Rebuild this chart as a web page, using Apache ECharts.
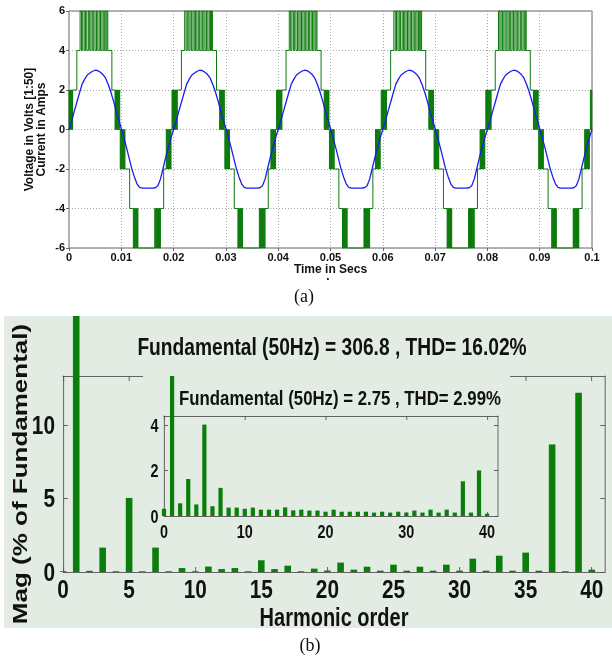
<!DOCTYPE html>
<html>
<head>
<meta charset="utf-8">
<script src="https://cdn.jsdelivr.net/npm/echarts@6/dist/echarts.min.js"></script>
<style>
html, body { margin: 0; padding: 0; background: #ffffff; }
#page { position: relative; width: 612px; height: 664px; overflow: hidden; }
#wave { position: absolute; left: 0; top: 0; width: 612px; height: 664px; }
/* the spectrum panel uses condensed lettering: it is laid out 25% wider and squeezed back */
#spectrum { position: absolute; left: 0; top: 0; width: 765px; height: 664px;
  transform: scaleX(0.8); transform-origin: 0 0; }
</style>
</head>
<body>
<div id="page">
  <div id="wave"></div>
  <div id="spectrum"></div>
</div>
<script>
// ---------- (a) inverter output, one 20 ms period repeated ----------
const periodMs = 20;
const cycleCount = 5;
// switching instants (ms) of the staircase PWM voltage and the level held from each instant
const voltageSwitchMs = [
  0.00, 0.10, 0.18, 0.28, 0.36, 0.46, 0.54, 0.64, 0.70, 1.50,
  2.12, 2.38, 2.62, 2.90, 3.15, 3.40, 3.70, 3.95, 4.20, 4.45, 4.72,
  4.98, 5.25, 5.50, 5.78, 6.02, 6.30, 6.55, 6.82, 7.05, 7.25, 7.42,
  8.20,
  8.80, 8.90, 8.98, 9.08, 9.16, 9.26, 9.34, 9.44, 9.52, 9.62, 9.70,
  9.80, 9.90, 9.98, 10.08, 10.16, 10.26, 10.34, 10.44, 10.52, 10.62, 10.70,
  11.60,
  12.30, 12.40, 12.48, 12.58, 12.66, 12.76, 12.84, 12.94, 13.02, 13.10, 13.18,
  16.40, 16.50, 16.58, 16.68, 16.76, 16.86, 16.94, 17.04, 17.12, 17.22, 17.30, 17.40, 17.48,
  18.10,
  18.60, 18.70, 18.78, 18.88, 18.96, 19.06, 19.14, 19.24, 19.32, 19.42, 19.50,
  19.70, 19.80, 19.88, 19.95
];
const voltageLevel = [
  2, 0, 2, 0, 2, 0, 2, 0, 2, 4,
  6, 4, 6, 4, 6, 4, 6, 4, 6, 4, 6,
  4, 6, 4, 6, 4, 6, 4, 6, 4, 6, 4,
  2,
  0, 2, 0, 2, 0, 2, 0, 2, 0, 2, 0,
  -2, 0, -2, 0, -2, 0, -2, 0, -2, 0, -2,
  -4,
  -6, -4, -6, -4, -6, -4, -6, -4, -6, -4, -6,
  -4, -6, -4, -6, -4, -6, -4, -6, -4, -6, -4, -6, -4,
  -2,
  0, -2, 0, -2, 0, -2, 0, -2, 0, -2, 0,
  2, 0, 2, 0
];
// load current, sampled every 0.5 ms over one period
const currentStepMs = 0.5;
const currentAmps = [
  0, 0.42, 0.92, 1.38, 1.85, 2.30, 2.55, 2.76, 2.86, 2.95,
  3.00, 2.98, 2.90, 2.78, 2.60, 2.28, 1.90, 1.45, 0.95, 0.50,
  0.05, -0.42, -0.92, -1.45, -1.98, -2.40, -2.75, -2.93, -2.97, -2.97,
  -2.97, -2.97, -2.97, -2.95, -2.85, -2.50, -1.95, -1.40, -0.90, -0.42
];
const timeTicks = [0, 0.01, 0.02, 0.03, 0.04, 0.05, 0.06, 0.07, 0.08, 0.09, 0.1];
const levelTicks = [-6, -4, -2, 0, 2, 4, 6];

// ---------- (b) harmonic spectra ----------
const harmonicOrder = [
  0, 1, 2, 3, 4, 5, 6, 7, 8, 9, 10, 11, 12, 13, 14, 15, 16, 17, 18, 19, 20,
  21, 22, 23, 24, 25, 26, 27, 28, 29, 30, 31, 32, 33, 34, 35, 36, 37, 38, 39, 40
];
const voltageMagPct = [
  0.05, 100, 0.08, 1.66, 0.05, 5.04, 0.05, 1.66, 0.05, 0.27, 0.05,
  0.37, 0.20, 0.27, 0.05, 0.80, 0.20, 0.43, 0.05, 0.23, 0.10,
  0.64, 0.16, 0.36, 0.09, 0.50, 0.09, 0.36, 0.09, 0.50, 0.09,
  0.91, 0.09, 1.11, 0.09, 1.32, 0.09, 8.68, 0.05, 12.2, 0.16
];
const currentMagPct = [
  0.32, 100, 0.56, 1.63, 0.51, 4.03, 0.43, 1.24, 0.37, 0.37, 0.32,
  0.37, 0.28, 0.28, 0.28, 0.38, 0.25, 0.28, 0.24, 0.24, 0.19,
  0.28, 0.19, 0.19, 0.19, 0.19, 0.15, 0.19, 0.15, 0.19, 0.15,
  0.24, 0.15, 0.28, 0.15, 0.28, 0.15, 1.53, 0.15, 2.01, 0.10
];
const spectrumTicks = [0, 5, 10, 15, 20, 25, 30, 35, 40];
const spectrumMagTicks = [0, 5, 10];
const insetOrderTicks = [0, 10, 20, 30, 40];
const insetMagTicks = [0, 2, 4];
const voltageSpectrumTitle = 'Fundamental (50Hz) = 306.8 , THD= 16.02%';
const currentSpectrumTitle = 'Fundamental (50Hz) = 2.75 , THD= 2.99%';

// ---------- series data ----------
// each voltage item: [start (s), end (s), level, previous level]
const voltageRuns = [];
const switchTimes = [];
const switchLevels = [];
for (let c = 0; c < cycleCount; c++) {
  voltageSwitchMs.forEach((t, i) => { switchTimes.push((t + c * periodMs) / 1000); switchLevels.push(voltageLevel[i]); });
}
switchTimes.push(cycleCount * periodMs / 1000);
for (let i = 0; i < switchLevels.length; i++) {
  voltageRuns.push([switchTimes[i], switchTimes[i + 1], switchLevels[i], i > 0 ? switchLevels[i - 1] : 0]);
}

const currentPoints = [];
for (let c = 0; c < cycleCount; c++) {
  currentAmps.forEach((a, i) => currentPoints.push([(c * periodMs + i * currentStepMs) / 1000, a]));
}
currentPoints.push([cycleCount * periodMs / 1000, currentAmps[0]]);

const voltageBars = harmonicOrder.map((h, i) => [h, voltageMagPct[i]]);
const currentBars = harmonicOrder.map((h, i) => [h, currentMagPct[i]]);

// ---------- shared styling ----------
const W = 612, H = 664;
const SANS = "'Liberation Sans', Arial, Helvetica, sans-serif";
const SERIF = "'Liberation Serif', 'Times New Roman', serif";
const ink = '#111111';
const frame = '#555555';
const panelFill = '#e2ece2';
const barGreen = '#0a7d0a';
const voltageGreen = '#0b7a0b';

// =====================================================================
// (a) voltage and current waveforms
// =====================================================================
const waveGrid = { left: 69, right: W - 592, top: 11, bottom: H - 248 };

const waveOption = {
  animation: false,
  backgroundColor: '#ffffff',
  grid: [Object.assign({ show: true, borderColor: '#666666', borderWidth: 1, backgroundColor: 'transparent' }, waveGrid)],
  xAxis: [{
    type: 'value', gridIndex: 0,
    min: timeTicks[0], max: timeTicks[timeTicks.length - 1],
    interval: timeTicks[1] - timeTicks[0],
    axisLine: { show: false, onZero: false },
    axisTick: { show: true, inside: false, length: 3, lineStyle: { color: '#666666' } },
    axisLabel: {
      fontFamily: SANS, fontWeight: 'bold', fontSize: 11, color: ink, margin: 4,
      showMinLabel: true, showMaxLabel: true,
      formatter: v => String(Number(v.toFixed(2)))
    },
    splitLine: { show: true, lineStyle: { color: '#a8a8a8', type: [1, 2], width: 1 } },
    name: 'Time in Secs', nameLocation: 'middle', nameGap: 15,
    nameTextStyle: { fontFamily: SANS, fontWeight: 'bold', fontSize: 12, color: ink }
  }],
  yAxis: [{
    type: 'value', gridIndex: 0,
    min: levelTicks[0], max: levelTicks[levelTicks.length - 1],
    interval: levelTicks[1] - levelTicks[0],
    axisLine: { show: false, onZero: false },
    axisTick: { show: true, inside: false, length: 3, lineStyle: { color: '#666666' } },
    axisLabel: { fontFamily: SANS, fontWeight: 'bold', fontSize: 11, color: ink, margin: 4,
      showMinLabel: true, showMaxLabel: true },
    splitLine: { show: true, lineStyle: { color: '#a8a8a8', type: [1, 2], width: 1 } },
    name: 'Voltage in Volts [1:50]\nCurrent in Amps', nameLocation: 'middle', nameGap: 21,
    nameMoveOverlap: false,
    nameTextStyle: { fontFamily: SANS, fontWeight: 'bold', fontSize: 12, lineHeight: 12, color: ink }
  }],
  series: [
    {
      name: 'Voltage', type: 'custom', xAxisIndex: 0, yAxisIndex: 0,
      data: voltageRuns, encode: { x: [0, 1], y: [2, 3] }, silent: true, z: 2,
      renderItem: function (params, api) {
        const t0 = api.value(0), t1 = api.value(1), lv = api.value(2), prev = api.value(3);
        const a = api.coord([t0, lv]);
        const b = api.coord([t1, lv]);
        const p = api.coord([t0, prev]);
        const st = { stroke: voltageGreen, lineWidth: 1, fill: null };
        return {
          type: 'group',
          children: [
            { type: 'line', shape: { x1: p[0], y1: p[1], x2: a[0], y2: a[1] }, style: st },
            { type: 'line', shape: { x1: a[0], y1: a[1], x2: b[0], y2: b[1] }, style: st }
          ]
        };
      }
    },
    {
      name: 'Current', type: 'line', xAxisIndex: 0, yAxisIndex: 0,
      data: currentPoints, showSymbol: false, symbol: 'none',
      lineStyle: { color: '#1c1cf0', width: 1.3 }, z: 3, silent: true
    }
  ],
  graphic: [
    { type: 'text', z: 6, x: 328, y: 277,
      style: { text: '.', fill: ink, align: 'center', verticalAlign: 'middle', font: "bold 12px " + SANS } },
    { type: 'text', z: 6, x: 304, y: 297,
      style: { text: '(a)', fill: ink, align: 'center', verticalAlign: 'middle', font: "18px " + SERIF } },
    { type: 'text', z: 6, x: 310, y: 646,
      style: { text: '(b)', fill: ink, align: 'center', verticalAlign: 'middle', font: "18px " + SERIF } }
  ]
};

// =====================================================================
// (b) harmonic spectra (drawn on a 765 px wide canvas squeezed to 612 px)
// =====================================================================
const squeeze = 0.8;
const SW = W / squeeze;
const sx = px => px / squeeze;

const mainGrid = { left: sx(63), right: SW - sx(605), top: 376, bottom: H - 572 };
const mainClipTop = 316;
const insetGrid = { left: sx(164), right: SW - sx(498), top: 416, bottom: H - 516 };
const insetClipTop = 376;

const mainYMax = 13.34, mainXMax = 41;
const insetYMax = 4.41, insetXMax = 41.35;
const mainBottomPx = H - mainGrid.bottom;
const insetBottomPx = H - insetGrid.bottom;
// the fundamental bars run past the frame, up to the panel edge
const mainReachMax = mainYMax * (mainBottomPx - mainClipTop) / (mainBottomPx - mainGrid.top);
const insetReachMax = insetYMax * (insetBottomPx - insetClipTop) / (insetBottomPx - insetGrid.top);

function boxAxis(gridIndex, extra) {
  return Object.assign({
    type: 'value', gridIndex: gridIndex,
    axisLine: { show: true, onZero: false, lineStyle: { color: frame, width: 1 } },
    axisLabel: { show: false },
    splitLine: { show: false }
  }, extra);
}
function hiddenAxis(gridIndex, extra) {
  return Object.assign({ type: 'value', gridIndex: gridIndex, show: false,
    axisLine: { onZero: false }, splitLine: { show: false } }, extra);
}
function ticks(values, len) {
  return { show: true, inside: true, length: len, lineStyle: { color: frame }, customValues: values };
}
const bigLabel = { fontFamily: SANS, fontWeight: 'bold', fontSize: 26, color: ink };
const nameLabel = { fontFamily: SANS, fontWeight: 'bold', fontSize: 25, color: ink };
const smallLabel = { fontFamily: SANS, fontWeight: 'bold', fontSize: 18, color: ink };

const spectrumOption = {
  animation: false,
  backgroundColor: 'transparent',
  grid: [
    Object.assign({}, mainGrid),
    Object.assign({}, mainGrid, { top: mainClipTop }),
    Object.assign({}, insetGrid, { z: 3 }),
    Object.assign({}, insetGrid, { top: insetClipTop, z: 3 })
  ],
  xAxis: [
    boxAxis(0, {
      min: 0, max: mainXMax, interval: 5, axisTick: ticks(spectrumTicks, 5),
      axisLabel: Object.assign({ show: true, margin: 4, customValues: spectrumTicks }, bigLabel),
      name: 'Harmonic order', nameLocation: 'middle', nameGap: 33,
      nameTextStyle: nameLabel
    }),
    boxAxis(0, { position: 'top', min: 0, max: mainXMax, interval: 5, axisTick: ticks(spectrumTicks, 5) }),
    hiddenAxis(1, { min: 0, max: mainXMax }),
    boxAxis(2, {
      z: 4, min: 0, max: insetXMax, interval: 10, axisTick: ticks(insetOrderTicks, 4),
      axisLabel: Object.assign({ show: true, margin: 6, customValues: insetOrderTicks }, smallLabel)
    }),
    boxAxis(2, { z: 4, position: 'top', min: 0, max: insetXMax, interval: 10, axisTick: ticks(insetOrderTicks, 4) }),
    hiddenAxis(3, { min: 0, max: insetXMax })
  ],
  yAxis: [
    boxAxis(0, {
      min: 0, max: mainYMax, interval: 5, axisTick: ticks(spectrumMagTicks, 6),
      axisLabel: Object.assign({ show: true, margin: 10, customValues: spectrumMagTicks }, bigLabel),
      name: 'Mag (% of Fundamental)', nameLocation: 'middle', nameGap: 41, nameMoveOverlap: false,
      nameTextStyle: { fontFamily: SANS, fontWeight: 'bold', fontSize: 26, color: ink }
    }),
    boxAxis(0, { position: 'right', min: 0, max: mainYMax, interval: 5, axisTick: ticks(spectrumMagTicks, 6) }),
    hiddenAxis(1, { min: 0, max: mainReachMax }),
    boxAxis(2, {
      z: 4, min: 0, max: insetYMax, interval: 2, axisTick: ticks(insetMagTicks, 5),
      axisLabel: Object.assign({ show: true, margin: 7, customValues: insetMagTicks }, smallLabel)
    }),
    boxAxis(2, { z: 4, position: 'right', min: 0, max: insetYMax, interval: 2, axisTick: ticks(insetMagTicks, 5) }),
    hiddenAxis(3, { min: 0, max: insetReachMax })
  ],
  series: [
    {
      name: 'Voltage spectrum', type: 'bar', xAxisIndex: 2, yAxisIndex: 2,
      data: voltageBars, barWidth: sx(6.6), clip: true,
      itemStyle: { color: barGreen }, z: 2, silent: true
    },
    {
      name: 'Current spectrum', type: 'bar', xAxisIndex: 5, yAxisIndex: 5,
      data: currentBars, barWidth: sx(4.2), clip: true,
      itemStyle: { color: barGreen }, z: 5, silent: true
    }
  ],
  graphic: [
    { type: 'rect', z: -10, silent: true,
      shape: { x: sx(4), y: 316, width: SW - sx(4), height: 312 }, style: { fill: panelFill } },
    { type: 'rect', z: 1, silent: true,
      shape: { x: sx(143), y: 371, width: sx(367), height: 172 }, style: { fill: panelFill } },
    { type: 'text', z: 6, x: sx(332), y: 347,
      style: { text: voltageSpectrumTitle, fill: ink, align: 'center', verticalAlign: 'middle',
        font: "bold 24px " + SANS } },
    { type: 'text', z: 6, x: sx(340), y: 398,
      style: { text: currentSpectrumTitle, fill: ink, align: 'center', verticalAlign: 'middle',
        font: "bold 21px " + SANS } }
  ]
};

const waveChart = echarts.init(document.getElementById('wave'), null, { renderer: 'canvas' });
waveChart.setOption(waveOption);
const spectrumChart = echarts.init(document.getElementById('spectrum'), null, { renderer: 'svg' });
spectrumChart.setOption(spectrumOption);
</script>
</body>
</html>
